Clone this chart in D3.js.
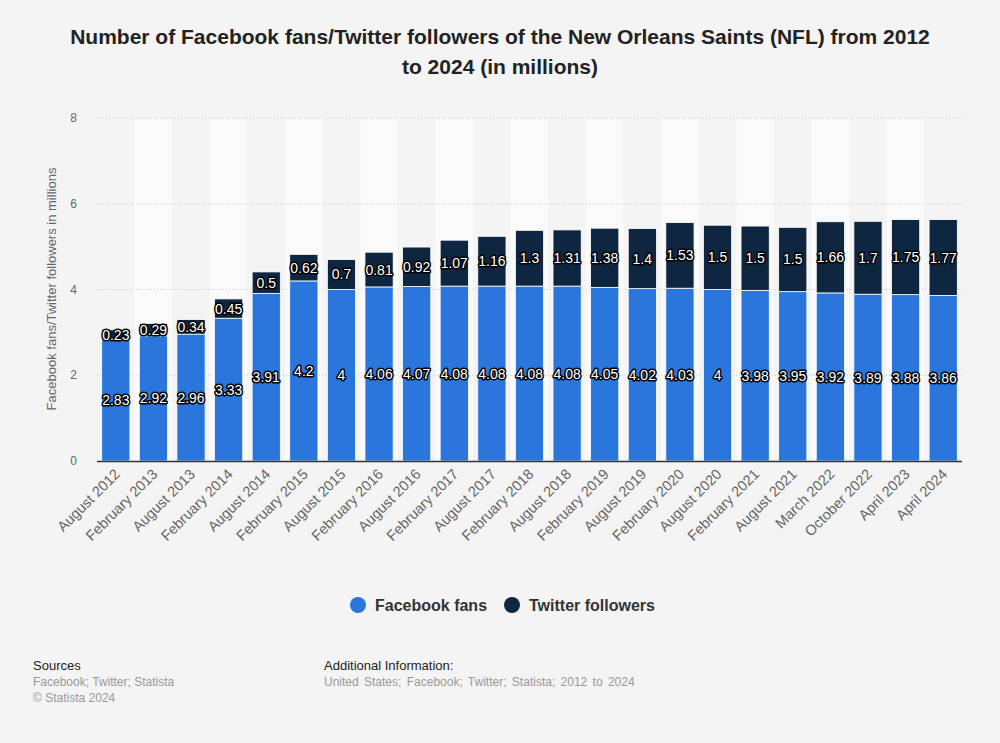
<!DOCTYPE html>
<html><head><meta charset="utf-8">
<script src="https://cdn.jsdelivr.net/npm/d3@7"></script>
<style>body{margin:0;background:#f4f4f4;}svg{display:block;font-family:"Liberation Sans",Arial,sans-serif;}</style>
</head><body><svg id="c" width="1000" height="743"></svg>
<script>
const categories = ["August 2012","February 2013","August 2013","February 2014","August 2014","February 2015","August 2015","February 2016","August 2016","February 2017","August 2017","February 2018","August 2018","February 2019","August 2019","February 2020","August 2020","February 2021","August 2021","March 2022","October 2022","April 2023","April 2024"];
const facebookFans = [2.83,2.92,2.96,3.33,3.91,4.2,4,4.06,4.07,4.08,4.08,4.08,4.08,4.05,4.02,4.03,4,3.98,3.95,3.92,3.89,3.88,3.86];
const twitterFollowers = [0.23,0.29,0.34,0.45,0.5,0.62,0.7,0.81,0.92,1.07,1.16,1.3,1.31,1.38,1.4,1.53,1.5,1.5,1.5,1.66,1.7,1.75,1.77];
const yTicks = [0,2,4,6,8];
const seriesNames = ["Facebook fans","Twitter followers"];
const colors = ["#2a76dd","#0f2641"];

const svg = d3.select("#c");
svg.append("rect").attr("width",1000).attr("height",743).attr("fill","#f4f4f4");
const m = {l:97, r:962, t:118, b:461};
const x = d3.scaleBand().domain(categories).range([m.l,m.r]).paddingInner(0.25).paddingOuter(0.125);
const xs = d3.scaleBand().domain(categories).range([m.l,m.r]);
const y = d3.scaleLinear().domain([0,8]).range([m.b,m.t]);

// stripes
svg.append("g").selectAll("rect").data(categories.filter((d,i)=>i%2===1)).join("rect")
  .attr("x",d=>xs(d)).attr("width",xs.bandwidth()).attr("y",m.t).attr("height",m.b-m.t).attr("fill","#fafafa");

// grid
svg.append("g").selectAll("line").data(yTicks.filter(d=>d>0)).join("line")
  .attr("x1",m.l).attr("x2",m.r).attr("y1",d=>y(d)).attr("y2",d=>y(d))
  .attr("stroke","#c8c8c8").attr("stroke-dasharray","1,2");

// y tick labels
svg.append("g").selectAll("text").data(yTicks).join("text")
  .attr("x",77).attr("y",d=>y(d)+4).attr("text-anchor","end")
  .attr("font-size",12).attr("fill","#666").text(d=>d);

// y axis title
svg.append("text").attr("transform","translate(56,289) rotate(-90)").attr("text-anchor","middle")
  .attr("font-size",13).attr("fill","#666").text("Facebook fans/Twitter followers in millions");

// stacked bars
const stackData = categories.map((c,i)=>({c, fb:facebookFans[i], tw:twitterFollowers[i]}));
const stack = d3.stack().keys(["fb","tw"])(stackData);
const gBars = svg.append("g");
stack.forEach((layer,li)=>{
  gBars.append("g").selectAll("rect").data(layer).join("rect")
    .attr("x",d=>x(d.data.c)).attr("width",x.bandwidth())
    .attr("y",d=>y(d[1])).attr("height",d=>y(d[0])-y(d[1]))
    .attr("fill",colors[li]).attr("stroke","#ffffff").attr("stroke-width",0.8);
});
// labels
const gLab = svg.append("g");
stack.forEach((layer,li)=>{
  gLab.append("g").selectAll("text").data(layer).join("text")
    .attr("x",d=>x(d.data.c)+x.bandwidth()/2)
    .attr("y",d=>(y(d[0])+y(d[1]))/2+5)
    .attr("text-anchor","middle").attr("font-size",14)
    .attr("fill","#fff").attr("stroke","#000").attr("stroke-width",3)
    .attr("stroke-linejoin","round").attr("paint-order","stroke")
    .text(d=>li===0?d.data.fb:d.data.tw);
});

// baseline
svg.append("line").attr("x1",m.l).attr("x2",m.r).attr("y1",m.b+0.5).attr("y2",m.b+0.5).attr("stroke","#333").attr("stroke-width",1.5);

// x labels
svg.append("g").selectAll("text").data(categories).join("text")
  .attr("transform",d=>`translate(${x(d)+x.bandwidth()/2+5},${m.b+14}) rotate(-45)`)
  .attr("text-anchor","end").attr("font-size",14.5).attr("fill","#666").text(d=>d);

// title
const title = svg.append("text").attr("text-anchor","middle").attr("font-size",21).attr("font-weight","bold").attr("fill","#222");
title.append("tspan").attr("x",500).attr("y",44).text("Number of Facebook fans/Twitter followers of the New Orleans Saints (NFL) from 2012");
title.append("tspan").attr("x",500).attr("y",74).text("to 2024 (in millions)");

// legend
const leg = svg.append("g");
const legItems = [{n:seriesNames[0],c:colors[0],x:358},{n:seriesNames[1],c:colors[1],x:512}];
legItems.forEach(it=>{
  leg.append("circle").attr("cx",it.x).attr("cy",605).attr("r",8).attr("fill",it.c);
  leg.append("text").attr("x",it.x+17).attr("y",611).attr("font-size",16).attr("font-weight","bold").attr("fill","#333").text(it.n);
});

// footer
svg.append("text").attr("x",33).attr("y",670).attr("font-size",13).attr("fill","#222").text("Sources");
svg.append("text").attr("x",33).attr("y",686).attr("font-size",12).attr("fill","#999").text("Facebook; Twitter; Statista");
svg.append("text").attr("x",33).attr("y",702).attr("font-size",12).attr("fill","#999").text("© Statista 2024");
svg.append("text").attr("x",324).attr("y",670).attr("font-size",13).attr("fill","#222").text("Additional Information:");
svg.append("text").attr("x",324).attr("y",686).attr("font-size",12).attr("fill","#999").attr("word-spacing",2).text("United States; Facebook; Twitter; Statista; 2012 to 2024");
</script></body></html>
